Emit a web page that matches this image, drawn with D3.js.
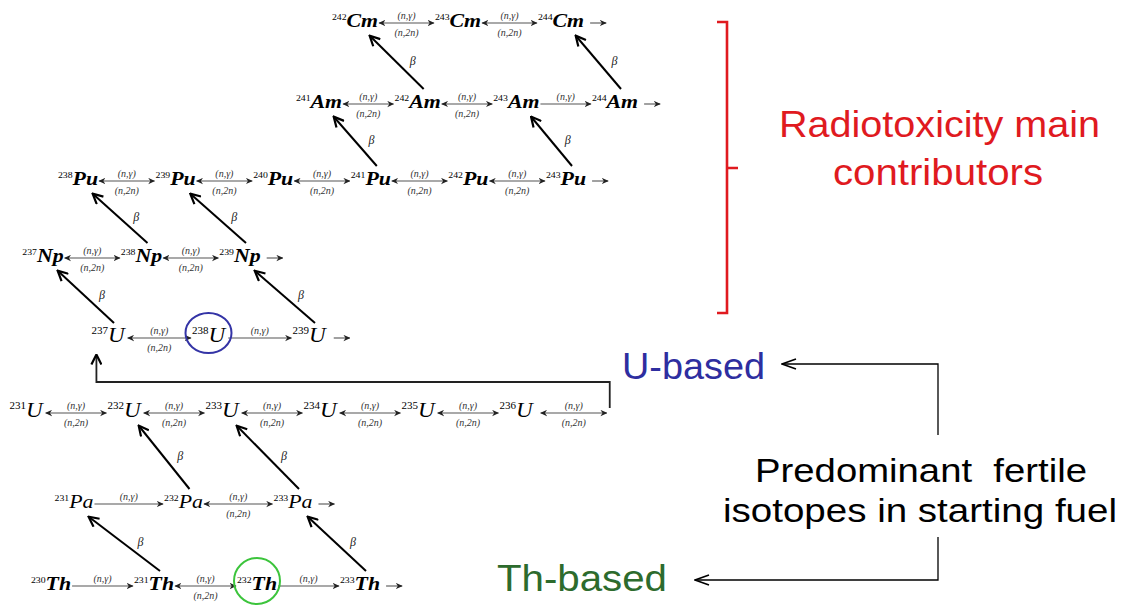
<!DOCTYPE html>
<html><head><meta charset="utf-8">
<script src="https://cdn.jsdelivr.net/npm/d3@7"></script>
<style>body{margin:0;background:#fff}</style>
</head><body>
<svg id="c" width="1143" height="605"></svg>
<script>
// ---------- data ----------
const rowKeys = ['Cm','Am','Pu','Np','U_hi','U_lo','Pa','Th'];
const rowElement = {Cm:'Cm',Am:'Am',Pu:'Pu',Np:'Np',U_hi:'U',U_lo:'U',Pa:'Pa',Th:'Th'};
const cmMasses = [242,243,244];
const amMasses = [241,242,243,244];
const puMasses = [238,239,240,241,242,243];
const npMasses = [237,238,239];
const uHiMasses = [237,238,239];
const uLoMasses = [231,232,233,234,235,236];
const paMasses = [231,232,233];
const thMasses = [230,231,232,233];
const rowMasses = {Cm:cmMasses,Am:amMasses,Pu:puMasses,Np:npMasses,U_hi:uHiMasses,U_lo:uLoMasses,Pa:paMasses,Th:thMasses};
// captures shown with (n,γ) only (from mass to mass+1)
const captureOnly = [['Am',243],['U_hi',238],['Pa',231],['Th',230],['Th',232]];
// rows ending with an open arrow
const openEnds = [['Cm',244],['Am',244],['Pu',243],['Np',239],['U_hi',239],['Pa',233],['Th',233]];
const openDoubleEnds = [['U_lo',236]];
// beta decays: [from row, mass, to row]
const betaLinks = [['Am',242,'Cm'],['Am',244,'Cm'],['Pu',241,'Am'],['Pu',243,'Am'],
  ['Np',238,'Pu'],['Np',239,'Pu'],['U_hi',237,'Np'],['U_hi',239,'Np'],
  ['Pa',232,'U_lo'],['Pa',233,'U_lo'],['Th',231,'Pa'],['Th',233,'Pa']];
const fertile = [['U_hi',238,'U-based'],['Th',232,'Th-based']];
const bracketLabel = ['Radiotoxicity main','contributors'];
const fuelLabel = ['Predominant  fertile','isotopes in starting fuel'];

// ---------- layout ----------
const layout = {Cm:{y:27,x:[355,561]},Am:{y:108,x:[319,615]},Pu:{y:185,x:[78,566]},
  Np:{y:262,x:[43,240]},U_hi:{y:342,x:[108,309]},U_lo:{y:417,x:[26,516]},
  Pa:{y:508,x:[74,293]},Th:{y:590,x:[51,360]}};
const xs = {};
rowKeys.forEach(k=>{const m=rowMasses[k];xs[k]=d3.scaleLinear().domain([m[0],m[m.length-1]]).range(layout[k].x);});
const yRow = d3.scaleOrdinal().domain(rowKeys).range(rowKeys.map(k=>layout[k].y));

const svg = d3.select('#c');
const defs = svg.append('defs');
defs.append('marker').attr('id','ah').attr('viewBox','0 0 10 10').attr('refX',9).attr('refY',5)
  .attr('markerWidth',7).attr('markerHeight',7).attr('markerUnits','userSpaceOnUse').attr('orient','auto-start-reverse')
  .append('path').attr('d','M0,0.5 L10,5 L0,9.5 L3,5 Z').attr('fill','#222');
defs.append('marker').attr('id','bh').attr('viewBox','0 0 12 12').attr('refX',10.5).attr('refY',6)
  .attr('markerWidth',12).attr('markerHeight',12).attr('markerUnits','userSpaceOnUse').attr('orient','auto')
  .append('path').attr('d','M1,1 L11,6 L1,11').attr('fill','none').attr('stroke','#000').attr('stroke-width',2.2);
defs.append('marker').attr('id','oh').attr('viewBox','0 0 16 12').attr('refX',15).attr('refY',6)
  .attr('markerWidth',16).attr('markerHeight',12).attr('markerUnits','userSpaceOnUse').attr('orient','auto')
  .append('path').attr('d','M1,1 L15,6 L1,11').attr('fill','none').attr('stroke','#000').attr('stroke-width',1.6);

const serif = "'Liberation Serif','Times New Roman',serif";
const sans = "'Liberation Sans',Arial,sans-serif";

// nuclide labels
const nuclides = [];
rowKeys.forEach(k=>rowMasses[k].forEach(m=>nuclides.push({row:k,el:rowElement[k],mass:m})));
const boxes = {};
const gN = svg.append('g');
nuclides.forEach(d=>{
  const isU = d.el==='U', isPa = d.el==='Pa';
  const sx = isU?1.1:1.15, cx = xs[d.row](d.mass), cy = yRow(d.row);
  const g = gN.append('g').attr('transform',`translate(${cx},${cy}) scale(${sx},1)`);
  const t = g.append('text').attr('x',0).attr('y',0)
    .attr('text-anchor','middle').attr('font-family',serif).attr('fill','#000');
  t.append('tspan').attr('font-size',isU?10:8.5).attr('dy',isU?-8:-7).text(d.mass);
  t.append('tspan').attr('font-size',isU?21:(isPa?19:19)).attr('font-style','italic')
    .attr('font-weight',(isU||isPa)?'normal':'bold').attr('dy',isU?8:7).text(d.el);
  const b = t.node().getBBox();
  boxes[d.row+'-'+d.mass] = {x:cx+b.x*sx, width:b.width*sx};
});

// reaction arrows
const gR = svg.append('g');
function reaction(x1,x2,y,dbl,labels){
  gR.append('line').attr('x1',x1).attr('x2',x2).attr('y1',y).attr('y2',y)
    .attr('stroke','#555').attr('stroke-width',1.1)
    .attr('marker-end','url(#ah)').attr('marker-start',dbl?'url(#ah)':null);
  if(!labels) return;
  const mx=(x1+x2)/2;
  gR.append('text').attr('x',mx).attr('y',y-4).attr('text-anchor','middle')
    .attr('font-family',serif).attr('font-style','italic').attr('font-size',10).attr('fill','#333').text('(n,γ)');
  if(dbl) gR.append('text').attr('x',mx).attr('y',y+13).attr('text-anchor','middle')
    .attr('font-family',serif).attr('font-style','italic').attr('font-size',10).attr('fill','#333').text('(n,2n)');
}
const isCaptureOnly=(k,m)=>captureOnly.some(c=>c[0]===k&&c[1]===m);
rowKeys.forEach(k=>{
  const ms=rowMasses[k], y=yRow(k)-4;
  for(let i=0;i<ms.length-1;i++){
    const a=boxes[k+'-'+ms[i]], b=boxes[k+'-'+ms[i+1]];
    reaction(a.x+a.width+1,b.x-1,y,!isCaptureOnly(k,ms[i]),true);
  }
});
openEnds.forEach(([k,m])=>{const b=boxes[k+'-'+m];reaction(b.x+b.width+6,b.x+b.width+22,yRow(k)-4,false,false);});
let loopStart;
openDoubleEnds.forEach(([k,m])=>{const b=boxes[k+'-'+m];const x1=b.x+b.width+6,x2=x1+66;
  reaction(x1,x2,yRow(k)-4,true,true);loopStart=[x2+3,yRow(k)-9];});

// feedback loop U_lo -> U_hi
const b237=boxes['U_hi-237'];
svg.append('path').attr('d',`M${loopStart[0]},${loopStart[1]} V${yRow('U_lo')-35} H${b237.x+5} V${yRow('U_hi')+13}`)
  .attr('fill','none').attr('stroke','#222').attr('stroke-width',1.8).attr('marker-end','url(#bh)');

// beta arrows
const gB = svg.append('g');
betaLinks.forEach(([from,m,to])=>{
  const x1=xs[from](m)+6, y1=yRow(from)-19, x2=xs[to](m)+15, y2=yRow(to)+9;
  gB.append('line').attr('x1',x1).attr('y1',y1).attr('x2',x2).attr('y2',y2)
    .attr('stroke','#000').attr('stroke-width',2).attr('marker-end','url(#bh)');
  gB.append('text').attr('x',(x1+x2)/2+16).attr('y',(y1+y2)/2+2).attr('text-anchor','middle')
    .attr('font-family',serif).attr('font-style','italic').attr('font-size',12).attr('fill','#222').text('β');
});

// fertile highlight circles
const fertileColor = {'U-based':'#3434a6','Th-based':'#3cc43c'};
fertile.forEach(([k,m,lab])=>{
  svg.append('ellipse').attr('cx',xs[k](m)).attr('cy',yRow(k)-9).attr('rx',23).attr('ry',k==='Th'?23:20)
    .attr('fill','none').attr('stroke',fertileColor[lab]).attr('stroke-width',2);
});

// red bracket
svg.append('path').attr('d','M717,22 H727 V313 H717 M727,168 H738').attr('fill','none')
  .attr('stroke','#e01a1f').attr('stroke-width',2.6);
svg.append('text').attr('x',779).attr('y',137).attr('font-family',sans).attr('font-size',36)
  .attr('fill','#e01a1f').attr('textLength',321).attr('lengthAdjust','spacingAndGlyphs').text(bracketLabel[0]);
svg.append('text').attr('x',833).attr('y',185).attr('font-family',sans).attr('font-size',36)
  .attr('fill','#e01a1f').attr('textLength',210).attr('lengthAdjust','spacingAndGlyphs').text(bracketLabel[1]);

// fuel labels
svg.append('text').attr('x',622).attr('y',379).attr('font-family',sans).attr('font-size',37)
  .attr('fill','#2e2ea0').attr('textLength',143).attr('lengthAdjust','spacingAndGlyphs').text('U-based');
svg.append('text').attr('x',497).attr('y',591).attr('font-family',sans).attr('font-size',37)
  .attr('fill','#2d6b2d').attr('textLength',170).attr('lengthAdjust','spacingAndGlyphs').text('Th-based');
svg.append('text').attr('x',755).attr('y',482).attr('font-family',sans).attr('font-size',34)
  .attr('fill','#000').attr('style','white-space:pre').attr('textLength',332).attr('lengthAdjust','spacingAndGlyphs').text(fuelLabel[0]);
svg.append('text').attr('x',723).attr('y',522).attr('font-family',sans).attr('font-size',34)
  .attr('fill','#000').attr('textLength',394).attr('lengthAdjust','spacingAndGlyphs').text(fuelLabel[1]);
svg.append('path').attr('d','M938,435 V364 H782').attr('fill','none').attr('stroke','#000')
  .attr('stroke-width',1.3).attr('marker-end','url(#oh)');
svg.append('path').attr('d','M938,537 V580 H695').attr('fill','none').attr('stroke','#000')
  .attr('stroke-width',1.3).attr('marker-end','url(#oh)');
</script>
</body></html>
